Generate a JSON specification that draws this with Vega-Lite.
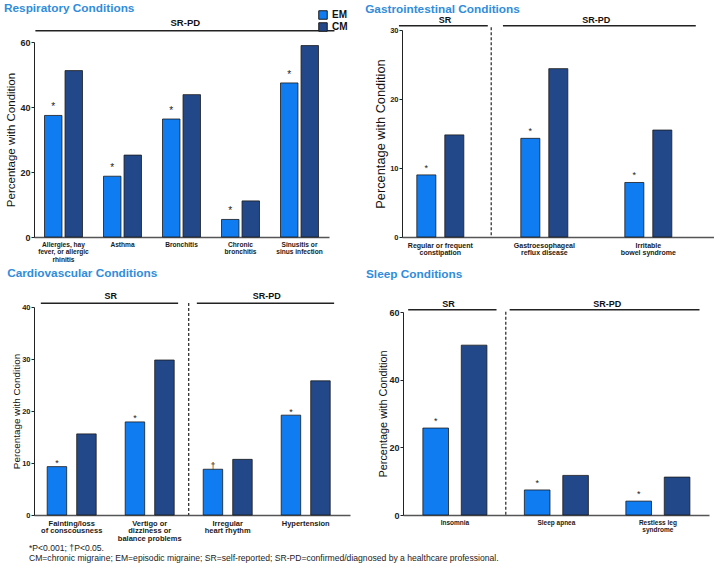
{
  "$schema": "https://vega.github.io/schema/vega-lite/v6.json",
  "background": "white",
  "padding": {"left": 3, "top": 2, "right": 0, "bottom": 0},
  "config": {
    "font": "Liberation Sans",
    "view": {"stroke": null},
    "title": {"color": "#2f8ddb", "fontSize": 11.8, "fontWeight": "bold", "anchor": "start", "frame": "bounds"},
    "axisX": {"title": null, "labelAngle": 0, "labelFontWeight": "bold", "ticks": false, "domainColor": "#555", "domainWidth": 1.5, "labelPadding": 4, "labelExpr": "split(datum.value, '\\n')", "labelBaseline": "top", "labelLimit": 0, "labelColor": "#1a1a1a", "grid": false},
    "axisY": {"titleFontWeight": "normal", "labelFontWeight": "bold", "tickSize": 3, "grid": false, "domainColor": "#222", "tickColor": "#222", "labelColor": "#222", "titleColor": "#111", "labelPadding": 1, "titlePadding": 0.5}
  },
  "title": {"text": "*P<0.001; †P<0.05.", "subtitle": "CM=chronic migraine; EM=episodic migraine; SR=self-reported; SR-PD=confirmed/diagnosed by a healthcare professional.", "orient": "bottom", "anchor": "start", "fontSize": 8.6, "fontWeight": "normal", "color": "#222", "subtitleColor": "#222", "subtitleFontSize": 8.6, "dx": 25, "offset": 2, "subtitlePadding": 2},
  "columns": 2,
  "align": "none",
  "spacing": {"row": 4, "column": 15},
  "resolve": {"scale": {"color": "independent", "xOffset": "independent"}, "legend": {"color": "independent"}},
  "concat": [
    {
      "width": 295, "height": 207,
      "title": {"text": "Respiratory Conditions", "offset": -4.5, "dx": -2},
      "data": {"values": [
        {"condition": "Allergies, hay\nfever, or allergic\nrhinitis", "group": "EM", "value": 37.4, "sig": "*"},
        {"condition": "Allergies, hay\nfever, or allergic\nrhinitis", "group": "CM", "value": 51.2, "sig": ""},
        {"condition": "Asthma", "group": "EM", "value": 18.7, "sig": "*"},
        {"condition": "Asthma", "group": "CM", "value": 25.2, "sig": ""},
        {"condition": "Bronchitis", "group": "EM", "value": 36.3, "sig": "*"},
        {"condition": "Bronchitis", "group": "CM", "value": 43.8, "sig": ""},
        {"condition": "Chronic\nbronchitis", "group": "EM", "value": 5.4, "sig": "*"},
        {"condition": "Chronic\nbronchitis", "group": "CM", "value": 11.1, "sig": ""},
        {"condition": "Sinusitis or\nsinus infection", "group": "EM", "value": 47.4, "sig": "*"},
        {"condition": "Sinusitis or\nsinus infection", "group": "CM", "value": 58.9, "sig": ""}
      ]},
      "layer": [
        {
          "mark": {"type": "bar", "stroke": "#1a1a1a", "strokeWidth": 0.8},
          "encoding": {
            "x": {"field": "condition", "type": "nominal", "sort": null, "scale": {"type": "band", "paddingInner": 0.356, "paddingOuter": 0.178}, "axis": {"title": null, "labelFontSize": 6.6, "labelLineHeight": 7.8}},
            "xOffset": {"field": "group", "type": "nominal", "sort": ["EM", "CM"], "scale": {"paddingInner": 0.15}},
            "y": {"field": "value", "type": "quantitative", "scale": {"domain": [0, 60], "nice": false, "range": [207, 12]}, "axis": {"values": [0, 20, 40, 60], "title": "Percentage with Condition", "titleFontSize": 11.5, "labelFontSize": 9, "titlePadding": 3}},
            "color": {"field": "group", "type": "nominal", "scale": {"domain": ["EM", "CM"], "range": ["#0f7cf2", "#22488a"]}, "legend": {"orient": "none", "legendX": 284, "legendY": -20, "title": null, "symbolType": "square", "symbolSize": 72, "symbolStrokeColor": "#1a1a1a", "symbolStrokeWidth": 1, "labelFontSize": 10, "labelFontWeight": "bold", "labelColor": "#111", "labelOffset": 4, "rowPadding": -2, "padding": 0, "direction": "vertical"}}
          }
        },
        {
          "mark": {"type": "text", "baseline": "alphabetic", "dy": -5, "fontSize": 10, "color": "#222"},
          "encoding": {
            "x": {"field": "condition", "type": "nominal", "sort": null},
            "xOffset": {"field": "group", "type": "nominal", "sort": ["EM", "CM"]},
            "y": {"field": "value", "type": "quantitative"},
            "text": {"field": "sig"}
          }
        },
        {
          "data": {"values": [{"label": "SR-PD", "from": "Allergies, hay\nfever, or allergic\nrhinitis", "to": "Sinusitis or\nsinus infection"}]},
          "mark": {"type": "rule", "strokeWidth": 1.5, "color": "#222"},
          "encoding": {
            "x": {"field": "from", "type": "nominal", "sort": null, "bandPosition": -0.24},
            "x2": {"field": "to", "bandPosition": 1.42},
            "y": {"datum": 63.5, "type": "quantitative"}
          }
        },
        {
          "data": {"values": [{"label": "SR-PD", "at": "Bronchitis"}]},
          "mark": {"type": "text", "fontWeight": "bold", "fontSize": 9.5, "color": "#111", "baseline": "middle"},
          "encoding": {
            "x": {"field": "at", "type": "nominal", "sort": null, "bandPosition": 0.6},
            "y": {"datum": 65.8, "type": "quantitative"},
            "text": {"field": "label"}
          }
        }
      ]
    },
    {
      "width": 312, "height": 207,
      "title": {"text": "Gastrointestinal Conditions", "offset": 0, "dx": -9},
      "data": {"values": [
        {"condition": "Regular or frequent\nconstipation", "group": "EM", "value": 9.0, "sig": "*"},
        {"condition": "Regular or frequent\nconstipation", "group": "CM", "value": 14.8, "sig": ""},
        {"condition": "Gastroesophageal\nreflux disease", "group": "EM", "value": 14.3, "sig": "*"},
        {"condition": "Gastroesophageal\nreflux disease", "group": "CM", "value": 24.4, "sig": ""},
        {"condition": "Irritable\nbowel syndrome", "group": "EM", "value": 7.9, "sig": "*"},
        {"condition": "Irritable\nbowel syndrome", "group": "CM", "value": 15.5, "sig": ""}
      ]},
      "layer": [
        {
          "mark": {"type": "bar", "stroke": "#1a1a1a", "strokeWidth": 0.8},
          "encoding": {
            "x": {"field": "condition", "type": "nominal", "sort": null, "scale": {"type": "band", "paddingInner": 0.548, "paddingOuter": 0.274, "align": 0.26}, "axis": {"title": null, "labelFontSize": 7, "labelLineHeight": 7.8}},
            "xOffset": {"field": "group", "type": "nominal", "sort": ["EM", "CM"], "scale": {"paddingInner": 0.32}},
            "y": {"field": "value", "type": "quantitative", "scale": {"domain": [0, 30], "nice": false}, "axis": {"values": [0, 10, 20, 30], "title": "Percentage with Condition", "titleFontSize": 12.8, "labelFontSize": 7.5, "titlePadding": 2.5}},
            "color": {"field": "group", "type": "nominal", "scale": {"domain": ["EM", "CM"], "range": ["#0f7cf2", "#22488a"]}, "legend": null}
          }
        },
        {
          "mark": {"type": "text", "baseline": "alphabetic", "dy": -4, "fontSize": 9, "color": "#222"},
          "encoding": {
            "x": {"field": "condition", "type": "nominal", "sort": null},
            "xOffset": {"field": "group", "type": "nominal", "sort": ["EM", "CM"]},
            "y": {"field": "value", "type": "quantitative"},
            "text": {"field": "sig"}
          }
        },
        {
          "data": {"values": [
            {"label": "SR", "from": "Regular or frequent\nconstipation", "to": "Regular or frequent\nconstipation"},
            {"label": "SR-PD", "from": "Gastroesophageal\nreflux disease", "to": "Irritable\nbowel syndrome"}
          ]},
          "mark": {"type": "rule", "strokeWidth": 1.5, "color": "#222"},
          "encoding": {
            "x": {"field": "from", "type": "nominal", "sort": null, "bandPosition": -0.38},
            "x2": {"field": "to", "bandPosition": 1.51},
            "y": {"datum": 30.6, "type": "quantitative"}
          }
        },
        {
          "data": {"values": [{"label": "SR", "at": "Regular or frequent\nconstipation"}]},
          "mark": {"type": "text", "fontWeight": "bold", "fontSize": 9, "color": "#111", "baseline": "middle"},
          "encoding": {
            "x": {"field": "at", "type": "nominal", "sort": null, "bandPosition": 0.6},
            "y": {"datum": 31.45, "type": "quantitative"},
            "text": {"field": "label"}
          }
        },
        {
          "data": {"values": [{"label": "SR-PD", "after": "Irritable\nbowel syndrome"}]},
          "mark": {"type": "text", "fontWeight": "bold", "fontSize": 9, "color": "#111", "baseline": "middle"},
          "encoding": {
            "x": {"field": "after", "type": "nominal", "sort": null, "bandPosition": -0.606},
            "y": {"datum": 31.45, "type": "quantitative"},
            "text": {"field": "label"}
          }
        },
        {
          "data": {"values": [{"after": "Gastroesophageal\nreflux disease"}]},
          "mark": {"type": "rule", "strokeWidth": 1.2, "color": "#222", "strokeDash": [3, 2]},
          "encoding": {
            "x": {"field": "after", "type": "nominal", "sort": null, "bandPosition": -0.63},
            "y": {"datum": 30.4, "type": "quantitative"},
            "y2": {"datum": 0}
          }
        }
      ]
    },
    {
      "width": 316, "height": 208,
      "title": {"text": "Cardiovascular Conditions", "offset": 12, "dx": -4},
      "data": {"values": [
        {"condition": "Fainting/loss\nof conscousness", "group": "EM", "value": 9.3, "sig": "*"},
        {"condition": "Fainting/loss\nof conscousness", "group": "CM", "value": 15.6, "sig": ""},
        {"condition": "Vertigo or\ndizziness or\nbalance problems", "group": "EM", "value": 17.9, "sig": "*"},
        {"condition": "Vertigo or\ndizziness or\nbalance problems", "group": "CM", "value": 29.8, "sig": ""},
        {"condition": "Irregular\nheart rhythm", "group": "EM", "value": 8.8, "sig": "†"},
        {"condition": "Irregular\nheart rhythm", "group": "CM", "value": 10.7, "sig": ""},
        {"condition": "Hypertension", "group": "EM", "value": 19.2, "sig": "*"},
        {"condition": "Hypertension", "group": "CM", "value": 25.8, "sig": ""}
      ]},
      "layer": [
        {
          "mark": {"type": "bar", "stroke": "#1a1a1a", "strokeWidth": 0.8},
          "encoding": {
            "x": {"field": "condition", "type": "nominal", "sort": null, "scale": {"type": "band", "paddingInner": 0.372, "paddingOuter": 0.2115, "align": 0.4}, "axis": {"title": null, "labelFontSize": 7.5, "labelLineHeight": 7.5}},
            "xOffset": {"field": "group", "type": "nominal", "sort": ["EM", "CM"], "scale": {"paddingInner": 0.34}},
            "y": {"field": "value", "type": "quantitative", "scale": {"domain": [0, 40], "nice": false}, "axis": {"values": [0, 10, 20, 30, 40], "title": "Percentage with Condition", "titleFontSize": 9.9, "labelFontSize": 7.5}},
            "color": {"field": "group", "type": "nominal", "scale": {"domain": ["EM", "CM"], "range": ["#0f7cf2", "#22488a"]}, "legend": null}
          }
        },
        {
          "mark": {"type": "text", "baseline": "alphabetic", "dy": -0.5, "fontSize": 9, "color": "#222"},
          "encoding": {
            "x": {"field": "condition", "type": "nominal", "sort": null},
            "xOffset": {"field": "group", "type": "nominal", "sort": ["EM", "CM"]},
            "y": {"field": "value", "type": "quantitative"},
            "text": {"field": "sig"}
          }
        },
        {
          "data": {"values": [
            {"label": "SR", "from": "Fainting/loss\nof conscousness", "to": "Vertigo or\ndizziness or\nbalance problems"},
            {"label": "SR-PD", "from": "Irregular\nheart rhythm", "to": "Hypertension"}
          ]},
          "mark": {"type": "rule", "strokeWidth": 1.5, "color": "#222"},
          "encoding": {
            "x": {"field": "from", "type": "nominal", "sort": null, "bandPosition": -0.13},
            "x2": {"field": "to", "bandPosition": 1.08},
            "y": {"datum": 40.7, "type": "quantitative"}
          }
        },
        {
          "data": {"values": [
            {"label": "SR", "after": "Vertigo or\ndizziness or\nbalance problems"},
            {"label": "SR-PD", "after": "Hypertension"}
          ]},
          "mark": {"type": "text", "fontWeight": "bold", "fontSize": 9, "color": "#111", "baseline": "middle"},
          "encoding": {
            "x": {"field": "after", "type": "nominal", "sort": null, "bandPosition": -0.296},
            "y": {"datum": 42.1, "type": "quantitative"},
            "text": {"field": "label"}
          }
        },
        {
          "data": {"values": [{"after": "Irregular\nheart rhythm"}]},
          "mark": {"type": "rule", "strokeWidth": 1.2, "color": "#222", "strokeDash": [3, 2]},
          "encoding": {
            "x": {"field": "after", "type": "nominal", "sort": null, "bandPosition": -0.296},
            "y": {"datum": 40.75, "type": "quantitative"},
            "y2": {"datum": 0}
          }
        }
      ]
    },
    {
      "width": 306, "height": 203,
      "title": {"text": "Sleep Conditions", "offset": 19, "dx": -11.5},
      "data": {"values": [
        {"condition": "Insomnia", "group": "EM", "value": 25.7, "sig": "*"},
        {"condition": "Insomnia", "group": "CM", "value": 50.2, "sig": ""},
        {"condition": "Sleep apnea", "group": "EM", "value": 7.4, "sig": "*"},
        {"condition": "Sleep apnea", "group": "CM", "value": 11.7, "sig": ""},
        {"condition": "Restless leg\nsyndrome", "group": "EM", "value": 4.1, "sig": "*"},
        {"condition": "Restless leg\nsyndrome", "group": "CM", "value": 11.2, "sig": ""}
      ]},
      "layer": [
        {
          "mark": {"type": "bar", "stroke": "#1a1a1a", "strokeWidth": 0.8},
          "encoding": {
            "x": {"field": "condition", "type": "nominal", "sort": null, "scale": {"type": "band", "paddingInner": 0.369, "paddingOuter": 0.192, "align": 0.51}, "axis": {"title": null, "labelFontSize": 6.5, "labelLineHeight": 7.5}},
            "xOffset": {"field": "group", "type": "nominal", "sort": ["EM", "CM"], "scale": {"paddingInner": 0.333}},
            "y": {"field": "value", "type": "quantitative", "scale": {"domain": [0, 60], "nice": false}, "axis": {"values": [0, 20, 40, 60], "title": "Percentage with Condition", "titleFontSize": 10.9, "labelFontSize": 9}},
            "color": {"field": "group", "type": "nominal", "scale": {"domain": ["EM", "CM"], "range": ["#0f7cf2", "#22488a"]}, "legend": null}
          }
        },
        {
          "mark": {"type": "text", "baseline": "alphabetic", "dy": -4, "fontSize": 9, "color": "#222"},
          "encoding": {
            "x": {"field": "condition", "type": "nominal", "sort": null},
            "xOffset": {"field": "group", "type": "nominal", "sort": ["EM", "CM"]},
            "y": {"field": "value", "type": "quantitative"},
            "text": {"field": "sig"}
          }
        },
        {
          "data": {"values": [
            {"label": "SR", "from": "Insomnia", "to": "Insomnia"},
            {"label": "SR-PD", "from": "Sleep apnea", "to": "Restless leg\nsyndrome"}
          ]},
          "mark": {"type": "rule", "strokeWidth": 1.5, "color": "#222"},
          "encoding": {
            "x": {"field": "from", "type": "nominal", "sort": null, "bandPosition": -0.23},
            "x2": {"field": "to", "bandPosition": 1.15},
            "y": {"datum": 60.7, "type": "quantitative"}
          }
        },
        {
          "data": {"values": [{"label": "SR", "at": "Insomnia"}]},
          "mark": {"type": "text", "fontWeight": "bold", "fontSize": 9, "color": "#111", "baseline": "middle"},
          "encoding": {
            "x": {"field": "at", "type": "nominal", "sort": null, "bandPosition": 0.4},
            "y": {"datum": 62.5, "type": "quantitative"},
            "text": {"field": "label"}
          }
        },
        {
          "data": {"values": [{"label": "SR-PD", "after": "Restless leg\nsyndrome"}]},
          "mark": {"type": "text", "fontWeight": "bold", "fontSize": 9, "color": "#111", "baseline": "middle"},
          "encoding": {
            "x": {"field": "after", "type": "nominal", "sort": null, "bandPosition": -0.29},
            "y": {"datum": 62.5, "type": "quantitative"},
            "text": {"field": "label"}
          }
        },
        {
          "data": {"values": [{"after": "Sleep apnea"}]},
          "mark": {"type": "rule", "strokeWidth": 1.2, "color": "#222", "strokeDash": [3, 2]},
          "encoding": {
            "x": {"field": "after", "type": "nominal", "sort": null, "bandPosition": -0.29},
            "y": {"datum": 60.1, "type": "quantitative"},
            "y2": {"datum": 0}
          }
        }
      ]
    }
  ]
}
